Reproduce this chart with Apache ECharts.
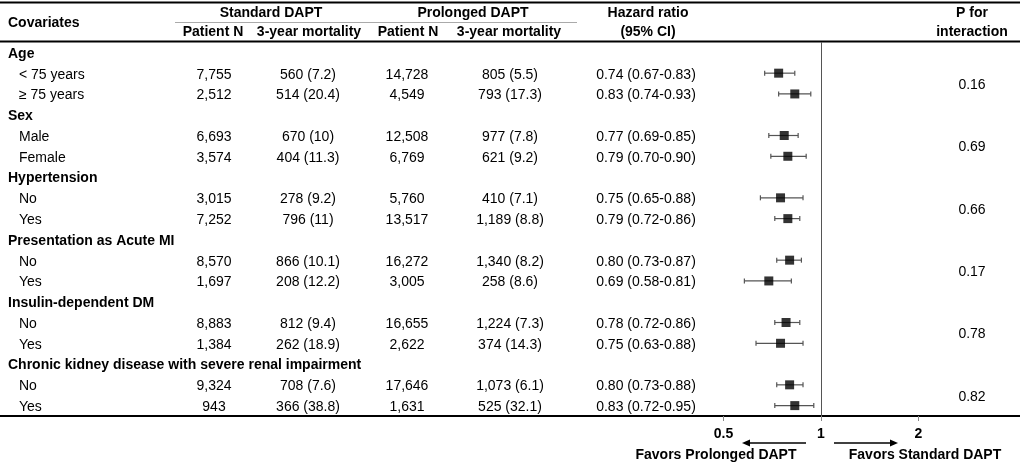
<!DOCTYPE html>
<html><head><meta charset="utf-8">
<script src="https://cdn.jsdelivr.net/npm/echarts@6/dist/echarts.min.js"></script>
<style>html,body{margin:0;padding:0;background:#fff}#c{width:1020px;height:464px}</style>
</head><body><div id="c"></div>
<script>
// ---------- data ----------
const groups = ['Age', 'Sex', 'Hypertension', 'Presentation as Acute MI', 'Insulin-dependent DM', 'Chronic kidney disease with severe renal impairment'];
const subgroups = [['< 75 years', '≥ 75 years'], ['Male', 'Female'], ['No', 'Yes'], ['No', 'Yes'], ['No', 'Yes'], ['No', 'Yes']];
const stdN = ['7,755', '2,512', '6,693', '3,574', '3,015', '7,252', '8,570', '1,697', '8,883', '1,384', '9,324', '943'];
const stdMort = ['560 (7.2)', '514 (20.4)', '670 (10)', '404 (11.3)', '278 (9.2)', '796 (11)', '866 (10.1)', '208 (12.2)', '812 (9.4)', '262 (18.9)', '708 (7.6)', '366 (38.8)'];
const proN = ['14,728', '4,549', '12,508', '6,769', '5,760', '13,517', '16,272', '3,005', '16,655', '2,622', '17,646', '1,631'];
const proMort = ['805 (5.5)', '793 (17.3)', '977 (7.8)', '621 (9.2)', '410 (7.1)', '1,189 (8.8)', '1,340 (8.2)', '258 (8.6)', '1,224 (7.3)', '374 (14.3)', '1,073 (6.1)', '525 (32.1)'];
const hr = [0.74, 0.83, 0.77, 0.79, 0.75, 0.79, 0.80, 0.69, 0.78, 0.75, 0.80, 0.83];
const lo = [0.67, 0.74, 0.69, 0.70, 0.65, 0.72, 0.73, 0.58, 0.72, 0.63, 0.73, 0.72];
const hi = [0.83, 0.93, 0.85, 0.90, 0.88, 0.86, 0.87, 0.81, 0.86, 0.88, 0.88, 0.95];
const pInt = ['0.16', '0.69', '0.66', '0.17', '0.78', '0.82'];
const axisTickValues = [0.5, 1, 2];

// ---------- layout ----------
const FONT = '"Liberation Sans", Arial, Helvetica, sans-serif';
const col = { label: 8, sub: 19, stdN: 214, stdM: 308, proN: 407, proM: 510, hr: 646, p: 972 };
const TEXT_DY = 1.5;

const rows = [];
groups.forEach((g, gi) => {
  rows.push({ r: rows.length, type: 'g', label: g });
  subgroups[gi].forEach((s, j) => rows.push({ r: rows.length, type: 's', label: s, k: gi * 2 + j }));
});
const subRowIndex = k => 3 * Math.floor(k / 2) + 1 + (k % 2);

function txt(x, y, text, align, bold, size) {
  return {
    type: 'text',
    style: {
      x: x, y: y, text: text,
      textAlign: align, align: align,
      textVerticalAlign: 'middle', verticalAlign: 'middle',
      font: (bold ? 'bold ' : '') + (size || 14) + 'px ' + FONT,
      fill: '#000', textFill: '#000'
    }
  };
}

function renderTable(params, api) {
  const row = rows[params.dataIndex];
  const y = api.coord([1, api.value(1)])[1] + TEXT_DY;
  if (row.type === 'g') return { type: 'group', children: [txt(col.label, y, row.label, 'left', true)] };
  const k = row.k;
  const hrText = hr[k].toFixed(2) + ' (' + lo[k].toFixed(2) + '-' + hi[k].toFixed(2) + ')';
  return {
    type: 'group', children: [
      txt(col.sub, y, row.label, 'left'),
      txt(col.stdN, y, stdN[k], 'center'),
      txt(col.stdM, y, stdMort[k], 'center'),
      txt(col.proN, y, proN[k], 'center'),
      txt(col.proM, y, proMort[k], 'center'),
      txt(col.hr, y, hrText, 'center')
    ]
  };
}

function renderCI(params, api) {
  const r = api.value(2);
  const a = api.coord([api.value(0), r]);
  const b = api.coord([api.value(1), r]);
  const h = 2.5;
  const st = { stroke: '#555', lineWidth: 1.2 };
  return {
    type: 'group', children: [
      { type: 'line', shape: { x1: a[0], y1: a[1], x2: b[0], y2: b[1] }, style: st },
      { type: 'line', shape: { x1: a[0], y1: a[1] - h, x2: a[0], y2: a[1] + h }, style: st },
      { type: 'line', shape: { x1: b[0], y1: b[1] - h, x2: b[0], y2: b[1] + h }, style: st }
    ]
  };
}

function renderP(params, api) {
  const y = api.coord([1, api.value(1)])[1] + TEXT_DY;
  return txt(col.p, y, pInt[params.dataIndex], 'center');
}

const chart = echarts.init(document.getElementById('c'), null, { renderer: 'canvas' });
chart.setOption({
  animation: false,
  backgroundColor: '#fff',
  grid: { left: 626, right: 4, top: 42, bottom: 48, containLabel: false },
  xAxis: {
    type: 'log', logBase: 2, min: 0.25, max: 4, position: 'bottom',
    axisLine: { show: false, onZero: false },
    splitLine: { show: false },
    axisTick: { show: true, inside: false, customValues: axisTickValues, length: 5, lineStyle: { color: '#888', width: 1 } },
    axisLabel: {
      customValues: axisTickValues, margin: 11, fontSize: 14, fontWeight: 'bold', color: '#000', fontFamily: FONT,
      formatter: v => String(+(+v).toPrecision(3))
    }
  },
  yAxis: { type: 'value', min: -0.5, max: 17.5, inverse: true, show: false },
  graphic: [
    { type: 'line', shape: { x1: 0, y1: 2.5, x2: 1020, y2: 2.5 }, style: { stroke: '#000', lineWidth: 2 } },
    { type: 'line', shape: { x1: 0, y1: 41.5, x2: 1020, y2: 41.5 }, style: { stroke: '#000', lineWidth: 2 } },
    { type: 'line', shape: { x1: 175, y1: 22.5, x2: 577, y2: 22.5 }, style: { stroke: '#aaa', lineWidth: 1 } },
    { type: 'line', shape: { x1: 0, y1: 416, x2: 1020, y2: 416 }, style: { stroke: '#000', lineWidth: 2 } },
    txt(8, 23, 'Covariates', 'left', true),
    txt(271, 13.5, 'Standard DAPT', 'center', true),
    txt(473, 13.5, 'Prolonged DAPT', 'center', true),
    txt(213, 32.5, 'Patient N', 'center', true),
    txt(309, 32.5, '3-year mortality', 'center', true),
    txt(408, 32.5, 'Patient N', 'center', true),
    txt(509, 32.5, '3-year mortality', 'center', true),
    txt(648, 13.5, 'Hazard ratio', 'center', true),
    txt(648, 32.5, '(95% CI)', 'center', true),
    txt(972, 13.5, 'P for', 'center', true),
    txt(972, 32.5, 'interaction', 'center', true),
    { type: 'line', shape: { x1: 806, y1: 443, x2: 748, y2: 443 }, style: { stroke: '#000', lineWidth: 1.5 } },
    { type: 'polygon', shape: { points: [[742, 443], [750, 439.5], [750, 446.5]] }, style: { fill: '#000' } },
    { type: 'line', shape: { x1: 834, y1: 443, x2: 892, y2: 443 }, style: { stroke: '#000', lineWidth: 1.5 } },
    { type: 'polygon', shape: { points: [[898, 443], [890, 439.5], [890, 446.5]] }, style: { fill: '#000' } },
    txt(716, 455, 'Favors Prolonged DAPT', 'center', true),
    txt(925, 455, 'Favors Standard DAPT', 'center', true)
  ],
  series: [
    {
      type: 'custom', name: 'table', renderItem: renderTable, clip: false, silent: true,
      encode: { x: 0, y: 1 },
      data: rows.map(r => [1, r.r])
    },
    {
      type: 'custom', name: 'ci', renderItem: renderCI, clip: false, silent: true,
      encode: { x: [0, 1], y: 2 },
      data: hr.map((v, k) => [lo[k], hi[k], subRowIndex(k)])
    },
    {
      type: 'scatter', name: 'hr', symbol: 'rect', symbolSize: 9, silent: true,
      itemStyle: { color: '#000' },
      data: hr.map((v, k) => [v, subRowIndex(k)]),
      markLine: {
        silent: true, symbol: 'none', label: { show: false },
        lineStyle: { color: '#555', width: 1, type: 'solid' },
        data: [{ xAxis: 1 }]
      }
    },
    {
      type: 'custom', name: 'p', renderItem: renderP, clip: false, silent: true,
      encode: { x: 0, y: 1 },
      data: pInt.map((p, g) => [1, 3 * g + 1.5])
    }
  ]
});
</script>
</body></html>
